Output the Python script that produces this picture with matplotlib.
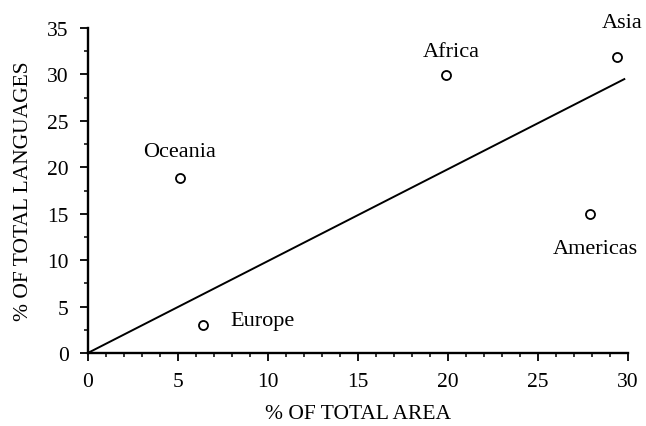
import matplotlib
matplotlib.use("Agg")
import matplotlib.pyplot as plt
from matplotlib.ticker import MultipleLocator

regions = ["Oceania", "Europe", "Africa", "Asia", "Americas"]
area_pct = [5.1, 6.4, 19.9, 29.4, 27.9]
lang_pct = [18.9, 3.0, 29.9, 31.9, 15.0]
fit_x = [0, 29.8]
fit_y = [0, 29.5]

# label offsets in points (dx, dy) and alignment
label_pos = {
    "Oceania": (0, 19, "center"),
    "Europe": (19.5, 3.6, "left"),
    "Africa": (3.6, 17.5, "center"),
    "Asia": (3.5, 25, "center"),
    "Americas": (3.6, -25, "center"),
}

plt.rcParams["font.family"] = ["Liberation Serif", "DejaVu Serif"]
fig = plt.figure(figsize=(6.46, 4.27), dpi=100)
ax = fig.add_axes([0.136, 0.171, 0.836, 0.761])

ax.plot(fit_x, fit_y, color="black", lw=1.4)
ax.plot(area_pct, lang_pct, linestyle="none", marker="o", ms=6.5,
        mfc="white", mec="black", mew=1.3, clip_on=False)

for r, x, y in zip(regions, area_pct, lang_pct):
    dx, dy, ha = label_pos[r]
    ax.annotate(r, (x, y), xytext=(dx, dy), textcoords="offset points",
                ha=ha, va="center", fontsize=16)

ax.set_xlim(0, 30)
ax.set_ylim(0, 35)
ax.xaxis.set_major_locator(MultipleLocator(5))
ax.xaxis.set_minor_locator(MultipleLocator(1))
ax.yaxis.set_major_locator(MultipleLocator(5))
ax.yaxis.set_minor_locator(MultipleLocator(2.5))

for s in ["top", "right"]:
    ax.spines[s].set_visible(False)
for s in ["left", "bottom"]:
    ax.spines[s].set_linewidth(1.7)

ax.tick_params(axis="both", which="major", direction="out", length=5.8,
               width=1.3, labelsize=15.5)
ax.tick_params(axis="both", which="minor", direction="out", length=3, width=1.1)
ax.tick_params(axis="y", which="major", pad=8)
ax.tick_params(axis="x", which="major", pad=8)

ax.set_xlabel("% OF TOTAL AREA", fontsize=15.5, labelpad=9)
ax.set_ylabel("% OF TOTAL LANGUAGES", fontsize=15.5, labelpad=10)

fig.savefig("out.png", dpi=100)
